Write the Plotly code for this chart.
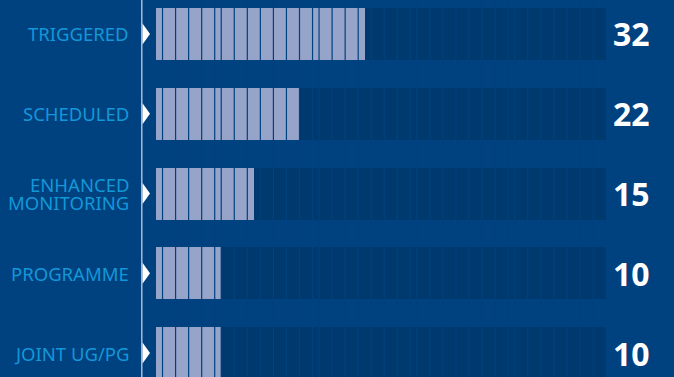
import plotly.graph_objects as go

categories = ["TRIGGERED", "SCHEDULED", "ENHANCED\nMONITORING", "PROGRAMME", "JOINT UG/PG"]
values = [32, 22, 15, 10, 10]
value_labels = ["32", "22", "15", "10", "10"]
track_max = 69

BG = "#00417F"
TRACK = "#00396E"
FILL = "#97A4C9"
LABEL = "#1497D8"

pos = list(range(len(categories)))
bar_w = 0.652

fig = go.Figure()
fig.add_trace(go.Bar(x=[track_max] * len(pos), y=pos, orientation="h", width=bar_w,
                     marker=dict(color=TRACK, line=dict(width=0)), hoverinfo="skip"))
fig.add_trace(go.Bar(x=values, y=pos, orientation="h", width=bar_w,
                     marker=dict(color=FILL, line=dict(width=0)), hoverinfo="skip"))

# arrows
for i in pos:
    fig.add_trace(go.Scatter(x=[-2.1, -0.92, -2.1, -2.1], y=[i - 0.135, i, i + 0.135, i - 0.135],
                             mode="lines", fill="toself", fillcolor="white",
                             line=dict(width=0, color="white"), hoverinfo="skip"))

# segment separators
seps = [1, 3, 5, 7, 9] + list(range(10, 25, 2)) + list(range(25, 40, 2)) + list(range(40, 55, 2)) + list(range(55, 69, 2))
shapes = []
for s in seps:
    shapes.append(dict(type="line", xref="x", yref="paper", x0=s, x1=s, y0=0, y1=1,
                       line=dict(color=BG, width=1.2), layer="above"))
shapes.append(dict(type="line", xref="x", yref="paper", x0=-2.18, x1=-2.18, y0=0, y1=1,
                   line=dict(color="#A8BBD8", width=1.5), layer="above"))

annotations = []
for i, (c, v) in enumerate(zip(categories, value_labels)):
    lines = c.split("\n")
    n = len(lines)
    for k, ln in enumerate(lines):
        dy = (k - (n - 1) / 2) * 0.236
        annotations.append(dict(x=-3.85, y=i + dy, xref="x", yref="y", text=ln, showarrow=False,
                                xanchor="right", yanchor="middle", align="right",
                                font=dict(family="Noto Sans", size=18.5, color=LABEL)))
    annotations.append(dict(x=69.8, y=i, xref="x", yref="y", text="<b>" + v + "</b>", showarrow=False,
                            xanchor="left", yanchor="middle",
                            font=dict(family="Open Sans", size=32, color="white")))

fig.update_layout(
    width=674, height=377, margin=dict(l=0, r=0, t=0, b=0),
    paper_bgcolor=BG, plot_bgcolor=BG, barmode="overlay", bargap=0,
    showlegend=False, shapes=shapes, annotations=annotations,
    xaxis=dict(range=[-23.92, 79.42], visible=False, fixedrange=True),
    yaxis=dict(range=[4.30, -0.426], visible=False, fixedrange=True),
)
fig.write_html("out.html")
